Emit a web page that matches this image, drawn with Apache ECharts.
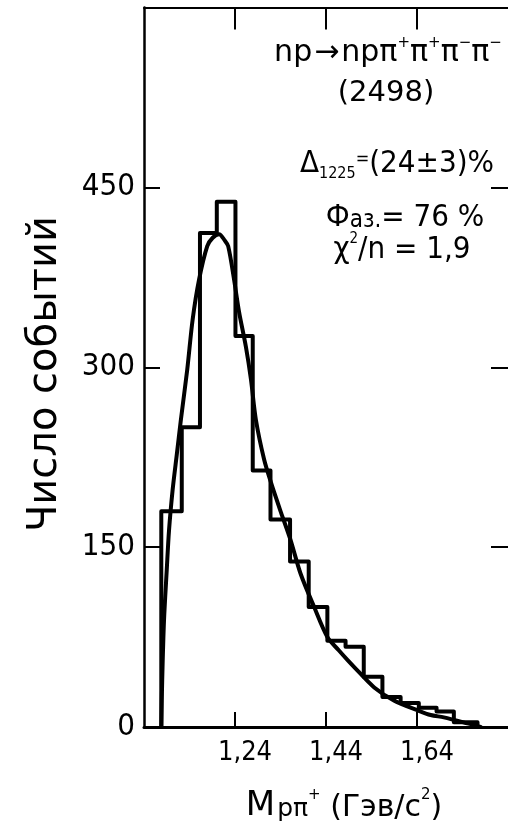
<!DOCTYPE html>
<html>
<head>
<meta charset="utf-8">
<script src="https://cdn.jsdelivr.net/npm/echarts@6/dist/echarts.min.js"></script>
<style>
html,body{margin:0;padding:0;background:#fff;}
#chart{width:508px;height:828px;}
</style>
</head>
<body>
<div id="chart"></div>
<script>
// ---- data ----
// histogram bin edges (GeV/c^2) and counts per bin
const binEdges = [1.078, 1.123, 1.163, 1.200, 1.241, 1.279, 1.318, 1.361, 1.402, 1.443, 1.483, 1.523, 1.564, 1.604, 1.644, 1.683, 1.721, 1.773];
const binCounts = [180, 250, 412, 438, 326, 214, 173, 138, 100, 72, 67, 42, 25, 20, 16, 13, 4];
// fitted curve
const fitMass = [1.078, 1.080, 1.084, 1.090, 1.095, 1.103, 1.112, 1.121, 1.135, 1.147, 1.161, 1.179, 1.191, 1.205, 1.217, 1.225, 1.238, 1.249, 1.264, 1.275, 1.286, 1.304, 1.319, 1.341, 1.362, 1.384, 1.414, 1.443, 1.468, 1.487, 1.502, 1.546, 1.590, 1.641, 1.670, 1.699, 1.751, 1.780];
const fitCounts = [0, 39, 89, 131, 164, 198, 227, 256, 298, 340, 373, 401, 408, 411, 406, 401, 373, 346, 317, 290, 256, 223, 204, 179, 156, 128, 100, 75, 64, 56, 50, 33, 22, 14, 10, 8, 3, 0];
// axis ticks
const xTickValues = [1.24, 1.44, 1.64];
const yTickValues = [0, 150, 300, 450];

// build the step outline from edges and counts
const histPts = [[binEdges[0], 0]];
for (let i = 0; i < binCounts.length; i++) {
  histPts.push([binEdges[i], binCounts[i]]);
  histPts.push([binEdges[i + 1], binCounts[i]]);
}
histPts.push([binEdges[binEdges.length - 1], 0]);
const fitPts = fitMass.map((m, i) => [m, fitCounts[i]]);

const FONT = "'DejaVu Sans Condensed','DejaVu Sans',sans-serif";
const FONT2 = "'DejaVu Sans',sans-serif";

const chart = echarts.init(document.getElementById('chart'), null, {renderer: 'canvas'});

const xFmt = v => {
  const hit = xTickValues.find(t => Math.abs(t - v) < 1e-6);
  return hit === undefined ? '' : hit.toFixed(2).replace('.', ',');
};
const yFmt = v => {
  const hit = yTickValues.find(t => Math.abs(t - v) < 1e-6);
  return hit === undefined ? '' : String(hit);
};

chart.setOption({
  animation: false,
  backgroundColor: '#fff',
  grid: {left: 144, right: 0, top: 7.5, bottom: 101, containLabel: false},
  xAxis: [
    {
      type: 'value', min: 1.04, max: 1.84, interval: 0.2, position: 'bottom',
      axisLine: {show: true, onZero: false, lineStyle: {color: '#000', width: 3}},
      axisTick: {show: true, inside: true, length: 15, customValues: xTickValues, lineStyle: {color: '#000', width: 2}},
      axisLabel: {show: true, customValues: xTickValues, formatter: xFmt, color: '#000', fontFamily: FONT, fontSize: 27, margin: 12, padding: [0, 0, 0, 20]},
      splitLine: {show: false}
    },
    {
      type: 'value', min: 1.04, max: 1.84, interval: 0.2, position: 'top',
      axisLine: {show: true, onZero: false, lineStyle: {color: '#000', width: 2}},
      axisTick: {show: true, inside: true, length: 22, customValues: xTickValues, lineStyle: {color: '#000', width: 2}},
      axisLabel: {show: false},
      splitLine: {show: false}
    }
  ],
  yAxis: [
    {
      type: 'value', min: 0, max: 600, interval: 150, position: 'left',
      axisLine: {show: true, onZero: false, lineStyle: {color: '#000', width: 2.5}},
      axisTick: {show: true, inside: true, length: 16, lineStyle: {color: '#000', width: 2}},
      axisLabel: {show: true, formatter: yFmt, color: '#000', fontFamily: FONT, fontSize: 31, margin: 9},
      splitLine: {show: false}
    },
    {
      type: 'value', min: 0, max: 600, interval: 150, position: 'right',
      axisLine: {show: false},
      axisTick: {show: true, inside: true, length: 17, customValues: [150, 300, 450], lineStyle: {color: '#000', width: 2}},
      axisLabel: {show: false},
      splitLine: {show: false}
    }
  ],
  series: [
    {
      type: 'line', name: 'hist', data: histPts, xAxisIndex: 0, yAxisIndex: 0,
      showSymbol: false, symbol: 'none', smooth: false,
      lineStyle: {color: '#000', width: 4, join: 'round', cap: 'round'}
    },
    {
      type: 'line', name: 'fit', data: fitPts, xAxisIndex: 0, yAxisIndex: 0,
      showSymbol: false, symbol: 'none', smooth: 0.3,
      lineStyle: {color: '#000', width: 4, join: 'round', cap: 'round'}
    }
  ],
  graphic: [
    {
      type: 'text', x: 46, y: 374, rotation: Math.PI / 2,
      style: {text: 'Число событий', x: 0, y: 0, align: 'center', verticalAlign: 'middle', fill: '#000', font: '40px ' + FONT2}
    },
    {
      type: 'text', x: 344, y: 803,
      style: {
        x: 0, y: 0, align: 'center', verticalAlign: 'middle', fill: '#000',
        text: '{m|M}{s|pπ}{p|+}{b| (Гэв/с}{p|2}{b|)}',
        rich: {
          m: {fontFamily: FONT2, fontSize: 34, lineHeight: 40, verticalAlign: 'bottom'},
          s: {fontFamily: FONT2, fontSize: 25, lineHeight: 40, verticalAlign: 'bottom', padding: [0, 0, 1, 2]},
          p: {fontFamily: FONT2, fontSize: 15, lineHeight: 40, verticalAlign: 'top', padding: [5, 0, 0, 0]},
          b: {fontFamily: FONT2, fontSize: 30, lineHeight: 40, verticalAlign: 'bottom'}
        }
      }
    },
    {
      type: 'text', x: 388, y: 50,
      style: {
        x: 0, y: 0, align: 'center', verticalAlign: 'middle', fill: '#000',
        text: '{t|np}{a|→}{t|npπ}{p|+}{t|π}{p|+}{t|π}{p|−}{t|π}{p|−}',
        rich: {
          t: {fontFamily: FONT2, fontSize: 30, lineHeight: 36, verticalAlign: 'bottom'},
          a: {fontFamily: FONT2, fontSize: 30, lineHeight: 36, verticalAlign: 'bottom', padding: [0, 2, 0, 2]},
          p: {fontFamily: FONT2, fontSize: 15, lineHeight: 36, verticalAlign: 'top', padding: [4, 0, 0, 0]}
        }
      }
    },
    {
      type: 'text', x: 386, y: 93,
      style: {text: '(2498)', x: 0, y: 0, align: 'center', verticalAlign: 'middle', fill: '#000', font: '29px ' + FONT2}
    },
    {
      type: 'text', x: 397, y: 164,
      style: {
        x: 0, y: 0, align: 'center', verticalAlign: 'middle', fill: '#000',
        text: '{b|Δ}{u|1225}{e|=}{b|(24±3)%}',
        rich: {
          b: {fontFamily: FONT, fontSize: 31, lineHeight: 40, verticalAlign: 'middle'},
          u: {fontFamily: FONT, fontSize: 16, lineHeight: 40, verticalAlign: 'bottom', padding: [0, 0, 2, 0]},
          e: {fontFamily: FONT, fontSize: 18, lineHeight: 40, verticalAlign: 'top', padding: [6, 0, 0, 0]}
        }
      }
    },
    {
      type: 'text', x: 405, y: 215,
      style: {
        x: 0, y: 0, align: 'center', verticalAlign: 'middle', fill: '#000',
        text: '{b|Ф}{s|аз.}{b|= 76 %}',
        rich: {
          b: {fontFamily: FONT, fontSize: 31, lineHeight: 36, verticalAlign: 'bottom'},
          s: {fontFamily: FONT, fontSize: 24, lineHeight: 36, verticalAlign: 'bottom'}
        }
      }
    },
    {
      type: 'text', x: 402, y: 247,
      style: {
        x: 0, y: 0, align: 'center', verticalAlign: 'middle', fill: '#000',
        text: '{b|χ}{p|2}{b|/n = 1,9}',
        rich: {
          b: {fontFamily: FONT, fontSize: 31, lineHeight: 36, verticalAlign: 'bottom'},
          p: {fontFamily: FONT, fontSize: 15, lineHeight: 36, verticalAlign: 'top', padding: [3, 0, 0, 0]}
        }
      }
    }
  ]
});
</script>
</body>
</html>
